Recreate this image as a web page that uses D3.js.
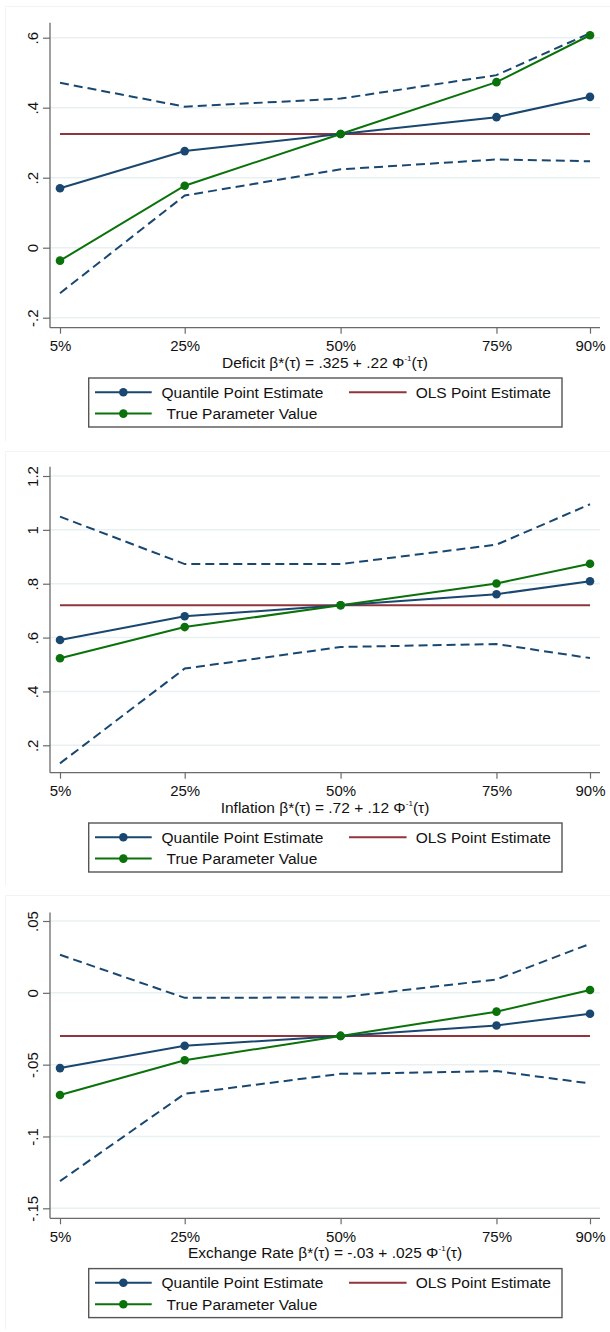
<!DOCTYPE html>
<html>
<head>
<meta charset="utf-8">
<script src="https://cdn.jsdelivr.net/npm/d3@7"></script>
<style>
  html, body { margin: 0; padding: 0; background: #ffffff; }
  svg { display: block; }
  text { font-family: "Liberation Sans", Arial, sans-serif; fill: #111; }
</style>
</head>
<body>
<svg id="chart" width="610" height="1332"></svg>
<script>
// Quantile levels on the x axis
const quantileLevels = [5, 25, 50, 75, 90];
const quantileLabels = ["5%", "25%", "50%", "75%", "90%"];

// Deficit coefficient
const deficitQuantile = [0.170, 0.276, 0.325, 0.373, 0.431];
const deficitTrue     = [-0.037, 0.177, 0.325, 0.473, 0.607];
const deficitUpper    = [0.471, 0.403, 0.426, 0.493, 0.613];
const deficitLower    = [-0.130, 0.149, 0.224, 0.252, 0.247];
const deficitOLS      = 0.325;
const deficitTicks      = [-0.2, 0, 0.2, 0.4, 0.6];
const deficitTickLabels = ["-.2", "0", ".2", ".4", ".6"];

// Inflation coefficient
const inflationQuantile = [0.591, 0.679, 0.720, 0.761, 0.809];
const inflationTrue     = [0.523, 0.639, 0.720, 0.801, 0.874];
const inflationUpper    = [1.049, 0.873, 0.873, 0.945, 1.095];
const inflationLower    = [0.133, 0.485, 0.565, 0.576, 0.524];
const inflationOLS      = 0.72;
const inflationTicks      = [0.2, 0.4, 0.6, 0.8, 1, 1.2];
const inflationTickLabels = [".2", ".4", ".6", ".8", "1", "1.2"];

// Exchange rate coefficient
const exchangeQuantile = [-0.0524, -0.0369, -0.0300, -0.0227, -0.0146];
const exchangeTrue     = [-0.0711, -0.0469, -0.0300, -0.0131, 0.0020];
const exchangeUpper    = [0.0265, -0.0035, -0.0032, 0.0093, 0.0341];
const exchangeLower    = [-0.1311, -0.0703, -0.0564, -0.0545, -0.0631];
const exchangeOLS      = -0.03;
const exchangeTicks      = [-0.15, -0.1, -0.05, 0, 0.05];
const exchangeTickLabels = ["-.15", "-.1", "-.05", "0", ".05"];

// Axis titles: text before the superscript, superscript, text after
const deficitTitle   = ["Deficit β*(τ) = .325 + .22 Φ", "-1", "(τ)"];
const inflationTitle = ["Inflation β*(τ) = .72 + .12 Φ", "-1", "(τ)"];
const exchangeTitle  = ["Exchange Rate β*(τ) = -.03 + .025 Φ", "-1", "(τ)"];

const legendLabels = ["Quantile Point Estimate", "OLS Point Estimate", "True Parameter Value"];

const colors = {
  quantile: "#1a476f",
  ols: "#90353b",
  truth: "#0b720b",
  grid: "#e8f0f1",
  axis: "#6a6a6a"
};

const panels = [
  { quantile: deficitQuantile, truth: deficitTrue, upper: deficitUpper, lower: deficitLower,
    ols: deficitOLS, ticks: deficitTicks, tickLabels: deficitTickLabels, title: deficitTitle,
    frameTop: 6, axisTop: 22.7, axisBottom: 327.7, yRange: [317.7, 37.7] },
  { quantile: inflationQuantile, truth: inflationTrue, upper: inflationUpper, lower: inflationLower,
    ols: inflationOLS, ticks: inflationTicks, tickLabels: inflationTickLabels, title: inflationTitle,
    frameTop: 451, axisTop: 466.7, axisBottom: 772.7, yRange: [745.3, 476] },
  { quantile: exchangeQuantile, truth: exchangeTrue, upper: exchangeUpper, lower: exchangeLower,
    ols: exchangeOLS, ticks: exchangeTicks, tickLabels: exchangeTickLabels, title: exchangeTitle,
    frameTop: 895, axisTop: 912.5, axisBottom: 1218.3, yRange: [1208.3, 921] }
];

const svg = d3.select("#chart");
const plotLeft = 50, plotRight = 600;
const x = d3.scaleLinear().domain([5, 90]).range([60, 590]);

panels.forEach((p, i) => {
  const g = svg.append("g");
  const y = d3.scaleLinear()
    .domain([d3.min(p.ticks), d3.max(p.ticks)])
    .range(p.yRange);

  // faint graph-region edges (top and left)
  const frameBottom = i < 2 ? panels[i + 1].frameTop - 10 : 1329;
  g.append("path")
    .attr("d", `M5.5,${frameBottom} V${p.frameTop + 0.5} H610`)
    .attr("fill", "none").attr("stroke", "#f3f3f3").attr("stroke-width", 1);

  // horizontal gridlines
  g.selectAll("line.grid").data(p.ticks).enter().append("line")
    .attr("x1", plotLeft).attr("x2", plotRight)
    .attr("y1", d => y(d)).attr("y2", d => y(d))
    .attr("stroke", colors.grid).attr("stroke-width", 1.5);

  // y axis
  const yAxis = d3.axisLeft(y).tickValues(p.ticks)
    .tickFormat((d, k) => p.tickLabels[k]).tickSize(7).tickSizeOuter(0);
  const ya = g.append("g").attr("transform", `translate(${plotLeft},0)`).call(yAxis);
  ya.select(".domain").remove();
  ya.selectAll(".tick line").attr("stroke", colors.axis).attr("stroke-width", 1.2);
  ya.selectAll(".tick text")
    .attr("x", null).attr("dy", null)
    .attr("text-anchor", "middle")
    .attr("transform", "translate(-12,0) rotate(-90)")
    .style("font-size", "15px")
    .style("font-family", "'Liberation Sans', Arial, sans-serif")
    .attr("fill", "#111");
  g.append("line")
    .attr("x1", plotLeft).attr("x2", plotLeft)
    .attr("y1", p.axisTop).attr("y2", p.axisBottom)
    .attr("stroke", colors.axis).attr("stroke-width", 1.3);

  // x axis
  const xAxis = d3.axisBottom(x).tickValues(quantileLevels)
    .tickFormat((d, k) => quantileLabels[k]).tickSize(6).tickSizeOuter(0).tickPadding(7);
  const xa = g.append("g").attr("transform", `translate(0,${p.axisBottom})`).call(xAxis);
  xa.select(".domain").remove();
  xa.selectAll(".tick line").attr("stroke", colors.axis).attr("stroke-width", 1.2);
  xa.selectAll(".tick text")
    .style("font-size", "15px")
    .style("font-family", "'Liberation Sans', Arial, sans-serif")
    .attr("fill", "#111");
  g.append("line")
    .attr("x1", plotLeft).attr("x2", plotRight)
    .attr("y1", p.axisBottom).attr("y2", p.axisBottom)
    .attr("stroke", colors.axis).attr("stroke-width", 1.3);

  // x axis title with superscript
  const title = g.append("text")
    .attr("x", (plotLeft + plotRight) / 2)
    .attr("y", p.axisBottom + 40)
    .attr("text-anchor", "middle")
    .style("font-size", "15.5px");
  title.append("tspan").text(p.title[0]);
  title.append("tspan").attr("dy", -7).style("font-size", "8px").text(p.title[1]);
  title.append("tspan").attr("dy", 7).text(p.title[2]);

  const line = d3.line().x((d, k) => x(quantileLevels[k])).y(d => y(d));

  // confidence bands (dashed)
  [p.upper, p.lower].forEach(band => {
    g.append("path").datum(band).attr("d", line)
      .attr("fill", "none").attr("stroke", colors.quantile)
      .attr("stroke-width", 2).attr("stroke-dasharray", "9,5");
  });

  // OLS estimate
  g.append("line")
    .attr("x1", x(quantileLevels[0])).attr("x2", x(quantileLevels[quantileLevels.length - 1]))
    .attr("y1", y(p.ols)).attr("y2", y(p.ols))
    .attr("stroke", colors.ols).attr("stroke-width", 2);

  // quantile estimates and true values
  [[p.quantile, colors.quantile], [p.truth, colors.truth]].forEach(([vals, c]) => {
    g.append("path").datum(vals).attr("d", line)
      .attr("fill", "none").attr("stroke", c).attr("stroke-width", 2);
    g.selectAll(null).data(vals).enter().append("circle")
      .attr("cx", (d, k) => x(quantileLevels[k]))
      .attr("cy", d => y(d))
      .attr("r", 4.3).attr("fill", c);
  });

  // legend
  const lt = p.axisBottom + 50.3;
  const lg = g.append("g");
  lg.append("rect")
    .attr("x", 88.7).attr("y", lt).attr("width", 473.3).attr("height", 49)
    .attr("fill", "#fff").attr("stroke", "#555").attr("stroke-width", 1.4);
  const row1 = lt + 14.2, row2 = lt + 35.6;
  const keys = [
    { label: legendLabels[0], c: colors.quantile, marker: true, x0: 95, x1: 151.7, tx: 161.5, y: row1 },
    { label: legendLabels[1], c: colors.ols, marker: false, x0: 349, x1: 406.6, tx: 415.7, y: row1 },
    { label: legendLabels[2], c: colors.truth, marker: true, x0: 95, x1: 151.7, tx: 166.5, y: row2 }
  ];
  keys.forEach(k => {
    lg.append("line").attr("x1", k.x0).attr("x2", k.x1).attr("y1", k.y).attr("y2", k.y)
      .attr("stroke", k.c).attr("stroke-width", 2);
    if (k.marker) {
      lg.append("circle").attr("cx", (k.x0 + k.x1) / 2).attr("cy", k.y).attr("r", 4.3).attr("fill", k.c);
    }
    lg.append("text").attr("x", k.tx).attr("y", k.y + 5.5)
      .style("font-size", "15.5px").text(k.label);
  });
});
</script>
</body>
</html>
